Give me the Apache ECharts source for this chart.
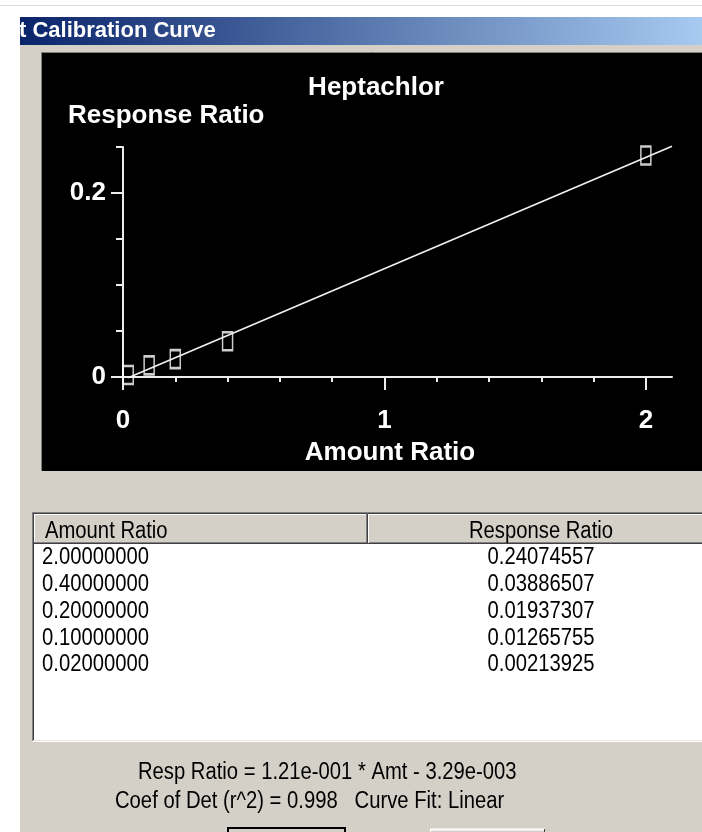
<!DOCTYPE html>
<html>
<head>
<meta charset="utf-8">
<script src="https://cdn.jsdelivr.net/npm/echarts@6.0.0/dist/echarts.min.js"></script>
<style>
html,body{margin:0;padding:0;background:#fff;}
#chart{width:702px;height:832px;}
</style>
</head>
<body>
<div id="chart"></div>
<script>
// ---- data ----
const amountRatio = [2.0, 0.4, 0.2, 0.1, 0.02];
const responseRatio = [0.24074557, 0.03886507, 0.01937307, 0.01265755, 0.00213925];
// fitted line end points (as drawn)
const fitLineX = [0.02, 2.1];
const fitLineY = [-0.0009, 0.2508];
// ticks / labels
const xMinorTicks = [0.2, 0.4, 0.6, 0.8, 1.2, 1.4, 1.6, 1.8];
const xMajorTicks = [0, 1, 2];
const xLabels = [0, 1, 2];
const yMinorTicks = [0.05, 0.1, 0.15, 0.25];
const yMajorTicks = [0, 0.2];
const yLabels = [0, 0.2];
const chartTitle = 'Heptachlor';
const xName = 'Amount Ratio';
const yName = 'Response Ratio';
const windowTitle = 't Calibration Curve';
const equationText = 'Resp Ratio = 1.21e-001 * Amt - 3.29e-003';
const coefText = 'Coef of Det (r^2) = 0.998   Curve Fit: Linear';

const chart = echarts.init(document.getElementById('chart'), null, {renderer: 'canvas'});

const AX = '#ececec';
const plotFont = {color: '#ffffff', fontSize: 26, fontWeight: 'bold', fontFamily: 'Liberation Sans, Arial, sans-serif'};
const sysFont = '23px "Liberation Sans", Arial, sans-serif';
const SX = 0.88;

function sysText(text, x, y, align) {
  return {type: 'text', x: x, y: y, scaleX: SX, z: 10,
    style: {text: text, font: sysFont, fill: '#000', textAlign: align || 'left', textVerticalAlign: 'middle'}};
}
function hline(x1, x2, y, color, w) {
  return {type: 'line', z: 5, shape: {x1: x1, y1: y, x2: x2, y2: y}, style: {stroke: color, lineWidth: w || 1}};
}
function vline(x, y1, y2, color, w) {
  return {type: 'line', z: 5, shape: {x1: x, y1: y1, x2: x, y2: y2}, style: {stroke: color, lineWidth: w || 1}};
}

const rowY0 = 558, rowStep = 26.75;
const tableTexts = [];
amountRatio.forEach(function (a, i) {
  tableTexts.push(sysText(a.toFixed(8), 42, rowY0 + i * rowStep, 'left'));
  tableTexts.push(sysText(responseRatio[i].toFixed(8), 541, rowY0 + i * rowStep, 'center'));
});

const graphics = [
  // dialog background
  {type: 'rect', z: -10, shape: {x: 0, y: 0, width: 702, height: 832}, style: {fill: '#D4D0C8'}},
  {type: 'rect', z: -9, shape: {x: 0, y: 0, width: 20, height: 832}, style: {fill: '#ffffff'}},
  {type: 'rect', z: -9, shape: {x: 0, y: 0, width: 702, height: 17}, style: {fill: '#ffffff'}},
  hline(0, 702, 5.5, '#dcdcdc', 1),
  // title bar
  {type: 'rect', z: -8, shape: {x: 20, y: 17, width: 682, height: 28},
    style: {fill: new echarts.graphic.LinearGradient(0, 0, 1, 0, [{offset: 0, color: '#0A246A'}, {offset: 1, color: '#A6CAF0'}])}},
  {type: 'text', x: 19, y: 31, z: 6,
    style: {text: windowTitle, font: 'bold 22px "Liberation Sans", Arial, sans-serif', fill: '#ffffff', textVerticalAlign: 'middle'}},
  // black plot panel
  {type: 'rect', z: -7, shape: {x: 41, y: 52, width: 661, height: 419}, style: {fill: '#000000'}},
  hline(41, 702, 52.5, '#808080', 1),
  vline(41.5, 52, 471, '#808080', 1),
  // plot texts
  {type: 'text', x: 376, y: 88, z: 6, style: {text: chartTitle, font: 'bold 26px "Liberation Sans", Arial, sans-serif', fill: '#fff', textAlign: 'center', textVerticalAlign: 'middle'}},
  {type: 'text', x: 68, y: 116, z: 6, style: {text: yName, font: 'bold 26px "Liberation Sans", Arial, sans-serif', fill: '#fff', textAlign: 'left', textVerticalAlign: 'middle'}},
  {type: 'text', x: 390, y: 453, z: 6, style: {text: xName, font: 'bold 26px "Liberation Sans", Arial, sans-serif', fill: '#fff', textAlign: 'center', textVerticalAlign: 'middle'}},
  // table frame
  {type: 'rect', z: -6, shape: {x: 32, y: 512, width: 670, height: 230}, style: {fill: '#ffffff'}},
  hline(32, 702, 512.5, '#808080', 1),
  hline(33, 702, 513.5, '#404040', 1),
  vline(32.5, 512, 742, '#808080', 1),
  vline(33.5, 513, 741, '#404040', 1),
  hline(32, 702, 741.5, '#ffffff', 1),
  hline(33, 702, 740.5, '#e8e6e0', 1),
  // header
  {type: 'rect', z: -5, shape: {x: 34, y: 514, width: 668, height: 30}, style: {fill: '#D4D0C8'}},
  hline(34, 702, 514.5, '#ffffff', 1),
  vline(34.5, 514, 544, '#ffffff', 1),
  hline(34, 702, 542.5, '#808080', 1),
  hline(34, 702, 543.5, '#404040', 1),
  vline(366.5, 514, 543, '#808080', 1),
  vline(367.5, 514, 543, '#404040', 1),
  vline(368.5, 514, 543, '#ffffff', 1),
  sysText('Amount Ratio', 45, 532, 'left'),
  sysText('Response Ratio', 541, 532, 'center'),
  // equation lines
  sysText(equationText, 138, 773, 'left'),
  sysText(coefText, 115, 802, 'left'),
  // partial buttons at the bottom
  {type: 'rect', z: 4, shape: {x: 228, y: 828, width: 117, height: 12}, style: {fill: '#D4D0C8', stroke: '#000', lineWidth: 2}},
  hline(430, 545, 829.5, '#ffffff', 2),
  vline(430.5, 829, 832, '#ffffff', 1),
  vline(544.5, 829, 832, '#404040', 1)
].concat(tableTexts);

const option = {
  animation: false,
  backgroundColor: 'transparent',
  grid: {left: 123, right: 30, top: 147, bottom: 455, containLabel: false, outerBoundsMode: 'none'},
  xAxis: [
    {type: 'value', min: 0, max: 2.1, position: 'bottom',
      axisLine: {show: true, onZero: false, lineStyle: {color: AX, width: 2}},
      axisTick: {show: true, customValues: xMinorTicks, length: 5, lineStyle: {color: AX, width: 2}},
      axisLabel: Object.assign({customValues: xLabels, margin: 31}, plotFont),
      splitLine: {show: false}},
    {type: 'value', min: 0, max: 2.1, position: 'bottom',
      axisLine: {show: false, onZero: false},
      axisTick: {show: true, customValues: xMajorTicks, length: 13, lineStyle: {color: AX, width: 2}},
      axisLabel: {show: false},
      splitLine: {show: false}}
  ],
  yAxis: [
    {type: 'value', min: 0, max: 0.25, position: 'left',
      axisLine: {show: true, onZero: false, lineStyle: {color: AX, width: 2}},
      axisTick: {show: true, customValues: yMinorTicks, length: 7, lineStyle: {color: AX, width: 2}},
      axisLabel: Object.assign({customValues: yLabels, margin: 17}, plotFont),
      splitLine: {show: false}},
    {type: 'value', min: 0, max: 0.25, position: 'left',
      axisLine: {show: false, onZero: false},
      axisTick: {show: true, customValues: yMajorTicks, length: 12, lineStyle: {color: AX, width: 2}},
      axisLabel: {show: false},
      splitLine: {show: false}}
  ],
  series: [
    {type: 'scatter', xAxisIndex: 0, yAxisIndex: 0, z: 2,
      symbol: 'rect', symbolSize: [10, 18],
      itemStyle: {color: 'rgba(0,0,0,0)', borderColor: '#ffffff', borderWidth: 2},
      data: amountRatio.map(function (a, i) { return [a, responseRatio[i]]; })},
    {type: 'line', xAxisIndex: 0, yAxisIndex: 0, z: 3, clip: false,
      symbol: 'none',
      lineStyle: {color: '#f2f2f2', width: 1.6},
      data: fitLineX.map(function (x, i) { return [x, fitLineY[i]]; })}
  ],
  graphic: graphics
};
chart.setOption(option);
</script>
</body>
</html>
